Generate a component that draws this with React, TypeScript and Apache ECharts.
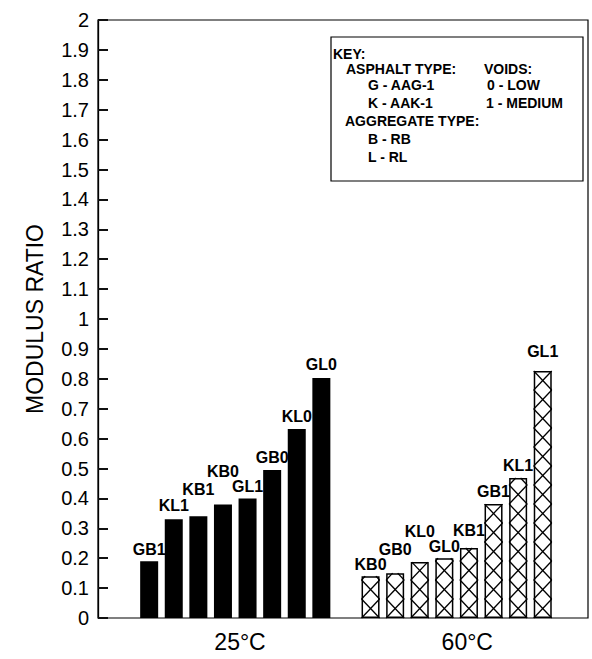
import React, { useEffect, useRef } from "react";
import * as echarts from "echarts";

// ---- data ----
const leftNames = ["GB1", "KL1", "KB1", "KB0", "GL1", "GB0", "KL0", "GL0"];
const leftValues = [0.19, 0.33, 0.34, 0.38, 0.4, 0.495, 0.632, 0.803];
const rightNames = ["KB0", "GB0", "KL0", "GL0", "KB1", "GB1", "KL1", "GL1"];
const rightValues = [0.14, 0.15, 0.187, 0.2, 0.234, 0.381, 0.468, 0.826];
const groupLabels = ["25°C", "60°C"];
const yAxisTitle = "MODULUS RATIO";
const keyTexts = [
  "KEY:",
  "ASPHALT TYPE:",
  "VOIDS:",
  "G - AAG-1",
  "0 - LOW",
  "K - AAK-1",
  "1 - MEDIUM",
  "AGGREGATE TYPE:",
  "B - RB",
  "L - RL",
];

// ---- layout / style ----
const FONT = "'Liberation Sans', Arial, Helvetica, sans-serif";
const BAR_W = 18;
const leftLift = [0, 2, 15, 21, 0, 0, 1, 1];
const rightLift = [0, 12, 19, 0, 6, 1, 1, 8];
const keyPos: [number, number][] = [
  [333, 54],
  [346, 69],
  [484, 69],
  [368, 85],
  [487, 85],
  [368, 103],
  [486, 103],
  [345, 121],
  [368, 139],
  [368, 157],
];

export default function App() {
  const ref = useRef<HTMLDivElement>(null);
  useEffect(() => {
    if (!ref.current) return;
    const chart = echarts.init(ref.current, undefined, { renderer: "svg" });

    const barData: any[] = [];
    leftNames.forEach((n, i) => {
      barData.push({
        name: n,
        value: [i, leftValues[i]],
        itemStyle: { color: "#000" },
        label: { distance: 4 + leftLift[i] },
      });
    });
    rightNames.forEach((n, i) => {
      barData.push({
        name: n,
        value: [9 + i, rightValues[i]],
        itemStyle: { color: "#fff", borderColor: "#000", borderWidth: 1.5 },
        label: { distance: 4 + rightLift[i] },
      });
    });
    const hatchData = rightValues.map((v, i) => [9 + i, v]);

    const option: any = {
      animation: false,
      backgroundColor: "#fff",
      grid: {
        left: 98,
        right: 4,
        top: 20,
        bottom: 41,
        show: true,
        borderColor: "#000",
        borderWidth: 1.2,
      },
      xAxis: [
        {
          type: "value",
          min: -2.08,
          max: 17.84,
          axisLine: { show: false, onZero: false },
          axisTick: { show: false },
          axisLabel: { show: false },
          splitLine: { show: false },
        },
        {
          type: "value",
          position: "bottom",
          min: 0,
          max: 17.25,
          interval: 1,
          axisLine: { show: false, onZero: false },
          axisTick: { show: false },
          splitLine: { show: false },
          axisLabel: {
            margin: 12,
            fontFamily: FONT,
            fontSize: 23,
            color: "#000",
            formatter: (v: number) =>
              v === 5 ? groupLabels[0] : v === 13 ? groupLabels[1] : "",
          },
        },
      ],
      yAxis: {
        type: "value",
        position: "left",
        min: 0,
        max: 2,
        interval: 0.1,
        name: yAxisTitle,
        nameLocation: "middle",
        nameGap: 42,
        nameTextStyle: {
          fontFamily: FONT,
          fontSize: 23,
          color: "#000",
          padding: [0, 0, 10, 0],
        },
        axisLine: {
          show: true,
          onZero: false,
          lineStyle: { color: "#000", width: 1.3 },
        },
        axisTick: {
          show: true,
          inside: true,
          length: 10,
          lineStyle: { color: "#111", width: 2 },
        },
        splitLine: { show: false },
        axisLabel: {
          margin: 9,
          fontFamily: FONT,
          fontSize: 20,
          color: "#000",
          formatter: (v: number) => String(Math.round(v * 10) / 10),
        },
      },
      series: [
        {
          type: "bar",
          xAxisIndex: 0,
          yAxisIndex: 0,
          barWidth: BAR_W,
          data: barData,
          label: {
            show: true,
            position: "top",
            formatter: "{b}",
            fontFamily: FONT,
            fontSize: 16,
            fontWeight: "bold",
            color: "#000",
          },
          z: 2,
        },
        {
          type: "custom",
          xAxisIndex: 0,
          yAxisIndex: 0,
          silent: true,
          z: 3,
          data: hatchData,
          encode: { x: 0, y: 1 },
          renderItem: (params: any, api: any) => {
            const x = api.value(0);
            const v = api.value(1);
            const top = api.coord([x, v]);
            const bot = api.coord([x, 0]);
            const x0 = top[0] - BAR_W / 2;
            const x1 = top[0] + BAR_W / 2;
            const cellH = 19;
            const children: any[] = [];
            let yb = bot[1];
            while (yb > top[1] + 0.5) {
              const h = Math.min(cellH, yb - top[1]);
              const t = h / cellH;
              children.push({
                type: "line",
                shape: { x1: x0, y1: yb, x2: x0 + t * BAR_W, y2: yb - h },
                style: { stroke: "#000", lineWidth: 1.3 },
              });
              children.push({
                type: "line",
                shape: { x1: x1, y1: yb, x2: x1 - t * BAR_W, y2: yb - h },
                style: { stroke: "#000", lineWidth: 1.3 },
              });
              yb -= cellH;
            }
            return { type: "group", children };
          },
        },
      ],
      graphic: [
        {
          type: "rect",
          shape: { x: 331, y: 37, width: 252, height: 144 },
          style: { fill: "#fff", stroke: "#000", lineWidth: 1.2 },
          z: 10,
        },
        ...keyTexts.map((t, i) => ({
          type: "text",
          x: keyPos[i][0],
          y: keyPos[i][1],
          z: 11,
          style: {
            text: t,
            fontFamily: FONT,
            fontSize: 14,
            fontWeight: "bold",
            fill: "#000",
            verticalAlign: "middle",
            align: "left",
          },
        })),
      ],
    };
    chart.setOption(option);
    return () => chart.dispose();
  }, []);
  return (
    <div
      ref={ref}
      style={{ position: "fixed", left: 0, top: 0, width: 592, height: 659 }}
    />
  );
}
